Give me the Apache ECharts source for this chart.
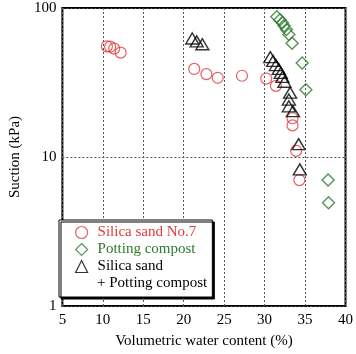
<!DOCTYPE html>
<html>
<head>
<meta charset="utf-8">
<script src="https://cdn.jsdelivr.net/npm/echarts@6/dist/echarts.min.js"></script>
<style>
  html, body { margin: 0; padding: 0; background: #fff; }
  #chart { width: 356px; height: 354px; }
</style>
</head>
<body>
<div id="chart"></div>
<script>
// volumetric water content (%) / suction (kPa)
const silicaX = [10.5, 10.9, 11.4, 12.2, 21.3, 22.8, 24.2, 27.2, 30.2, 31.4, 33.45, 33.45, 33.9, 34.3]
const silicaY = [55.3, 55.0, 53.4, 50.2, 39.0, 36.0, 34.0, 35.1, 33.6, 30.0, 18.2, 16.3, 11.0, 7.0]

const compostX = [31.5, 31.9, 32.2, 32.4, 32.7, 33.0, 33.4, 34.65, 35.1, 37.85, 37.9]
const compostY = [87.2, 83.3, 79.6, 76.1, 71.6, 66.3, 57.9, 42.7, 28.3, 7.0, 4.93]

const mixX = [21.05, 21.6, 22.3, 30.7, 31.05, 31.4, 31.75, 32.0, 32.2, 32.45, 33.15, 33.0, 33.0, 33.5, 34.2, 34.35]
const mixY = [62.4, 59.7, 57.1, 46.8, 44.1, 41.4, 39.0, 36.7, 34.5, 32.0, 27.0, 24.3, 21.9, 20.3, 12.2, 8.26]

const xTicks = [5, 10, 15, 20, 25, 30, 35, 40]

const seriesNames = ['Silica sand No.7', 'Potting compost', 'Silica sand']

const pairs = (xs, ys) => xs.map((x, i) => [x, ys[i]])

const font = 'Liberation Serif, Times New Roman, serif'
const red = '#e03a3a'
const green = '#2c7a2c'

const chart = echarts.init(document.getElementById('chart'))

const option = {
  animation: false,
  backgroundColor: '#fff',
  textStyle: { fontFamily: font },
  grid: {
    left: 48,
    right: 7,
    top: 8,
    bottom: 43,
    show: true,
    borderColor: '#000',
    borderWidth: 2,
    backgroundColor: 'transparent'
  },
  xAxis: {
    type: 'value',
    min: 5,
    max: 40,
    interval: 5,
    name: 'Volumetric water content (%)',
    nameLocation: 'middle',
    nameGap: 28,
    nameTextStyle: { fontSize: 15, color: '#000', fontFamily: font },
    axisLine: { show: false },
    axisTick: { show: false },
    axisLabel: {
      fontSize: 15,
      color: '#000',
      fontFamily: font,
      margin: 7,
      formatter: (v) => (xTicks.includes(v) ? String(v) : '')
    },
    splitLine: {
      show: true,
      lineStyle: { color: '#555', type: [2, 2], width: 1 }
    }
  },
  yAxis: {
    type: 'log',
    logBase: 10,
    min: 1,
    max: 100,
    name: 'Suction (kPa)',
    nameLocation: 'middle',
    nameGap: 31,
    nameTextStyle: { fontSize: 15, color: '#000', fontFamily: font },
    axisLine: { show: false },
    axisTick: { show: false },
    axisLabel: { fontSize: 15, color: '#000', fontFamily: font, margin: 6 },
    splitLine: {
      show: true,
      lineStyle: { color: '#555', type: [2, 2], width: 1 }
    },
    minorTick: { show: false }
  },
  legend: {
    orient: 'vertical',
    left: 59,
    top: 220,
    padding: [4, 16, 22, 16],
    itemGap: 0,
    itemWidth: 12,
    itemHeight: 12,
    backgroundColor: '#fff',
    borderColor: '#000',
    borderWidth: 1,
    borderRadius: 0,
    shadowColor: '#000',
    shadowBlur: 0,
    shadowOffsetX: 2,
    shadowOffsetY: 2,
    itemStyle: { borderWidth: 1.2 },
    textStyle: { fontSize: 15, lineHeight: 17, fontFamily: font, padding: [0, 0, 0, 5] },
    data: [
      { name: seriesNames[0], textStyle: { color: red } },
      { name: seriesNames[1], textStyle: { color: green } },
      { name: seriesNames[2], textStyle: { color: '#000' } }
    ]
  },
  graphic: [
    {
      type: 'text',
      left: 97,
      top: 275,
      z: 100,
      style: {
        text: '+ Potting compost',
        font: '15px ' + font,
        fill: '#000',
        lineHeight: 17
      }
    }
  ],
  series: [
    {
      name: seriesNames[0],
      type: 'scatter',
      symbol: 'circle',
      symbolSize: 11,
      itemStyle: { color: 'transparent', borderColor: red, borderWidth: 1.2 },
      data: pairs(silicaX, silicaY)
    },
    {
      name: seriesNames[1],
      type: 'scatter',
      symbol: 'diamond',
      symbolSize: [12, 12],
      itemStyle: { color: 'transparent', borderColor: green, borderWidth: 1.4 },
      data: pairs(compostX, compostY)
    },
    {
      name: seriesNames[2],
      type: 'scatter',
      symbol: 'triangle',
      symbolSize: [13, 11],
      itemStyle: { color: 'transparent', borderColor: '#000', borderWidth: 1.4 },
      data: pairs(mixX, mixY)
    }
  ]
}

chart.setOption(option)
</script>
</body>
</html>
